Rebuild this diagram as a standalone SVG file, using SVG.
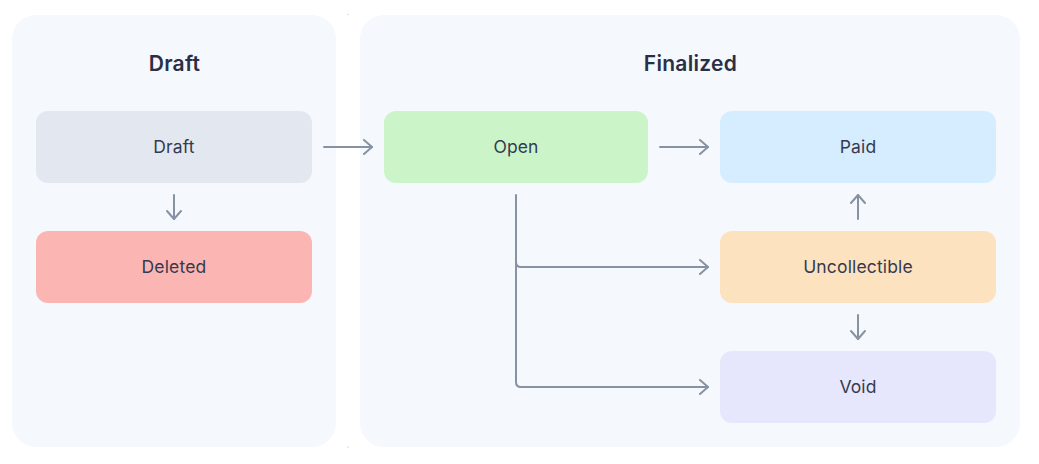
<svg xmlns="http://www.w3.org/2000/svg" width="1039" height="464" viewBox="0 0 1039 464">
<style>
.panel{fill:#f5f8fc}
.title{font-family:Inter,"Liberation Sans",sans-serif;font-size:21px;font-weight:600;fill:#2a2f45;text-anchor:middle;letter-spacing:0.3px}
.lbl{font-family:Inter,"Liberation Sans",sans-serif;font-size:17.5px;font-weight:400;fill:#353a50;text-anchor:middle;letter-spacing:0.15px}
.edge{fill:none;stroke:#8792a2;stroke-width:2;stroke-linecap:round;stroke-linejoin:round}
</style>
<defs>
<marker id="ah" viewBox="0 0 12 16" refX="11" refY="8" markerWidth="12" markerHeight="16" markerUnits="userSpaceOnUse" orient="auto">
<path d="M3,1 L11,8 L3,15" fill="none" stroke="#8792a2" stroke-width="2" stroke-linecap="round" stroke-linejoin="round"/>
</marker>
</defs>
<rect fill="#ffffff" x="0" y="0" width="1039" height="464"/>
<g id="panel-draft">
<rect class="panel" x="12" y="15" width="324" height="432" rx="24"/>
<text class="title" x="174.5" y="70.5">Draft</text>
</g>
<g id="panel-finalized">
<rect class="panel" x="360" y="15" width="660" height="432" rx="24"/>
<text class="title" x="690.5" y="70.5">Finalized</text>
</g>
<circle cx="348" cy="14.5" r="0.8" fill="#d5d9e0"/>
<circle cx="348" cy="447" r="0.8" fill="#d5d9e0"/>
<g id="node-draft">
<rect x="36" y="111" width="276" height="72" rx="12" fill="#e3e7ef"/>
<text class="lbl" x="174" y="153">Draft</text>
</g>
<g id="node-deleted">
<rect x="36" y="231" width="276" height="72" rx="12" fill="#fbb5b2"/>
<text class="lbl" x="174" y="273">Deleted</text>
</g>
<g id="node-open">
<rect x="384" y="111" width="264" height="72" rx="12" fill="#cbf4c9"/>
<text class="lbl" x="516" y="153">Open</text>
</g>
<g id="node-paid">
<rect x="720" y="111" width="276" height="72" rx="12" fill="#d6ecff"/>
<text class="lbl" x="858" y="153">Paid</text>
</g>
<g id="node-uncollectible">
<rect x="720" y="231" width="276" height="72" rx="12" fill="#fde2bf"/>
<text class="lbl" x="858" y="273">Uncollectible</text>
</g>
<g id="node-void">
<rect x="720" y="351" width="276" height="72" rx="12" fill="#e6e6fc"/>
<text class="lbl" x="858" y="393">Void</text>
</g>
<g id="connectors">
<path class="edge" d="M324,147 H372" marker-end="url(#ah)"/>
<path class="edge" d="M660,147 H708" marker-end="url(#ah)"/>
<path class="edge" d="M174,195 V219" marker-end="url(#ah)"/>
<path class="edge" d="M858,219 V195" marker-end="url(#ah)"/>
<path class="edge" d="M858,315 V339" marker-end="url(#ah)"/>
<path class="edge" d="M516,195 V262 Q516,267 521,267 H708" marker-end="url(#ah)"/>
<path class="edge" d="M516,262 V382 Q516,387 521,387 H708" marker-end="url(#ah)"/>
</g>
</svg>
